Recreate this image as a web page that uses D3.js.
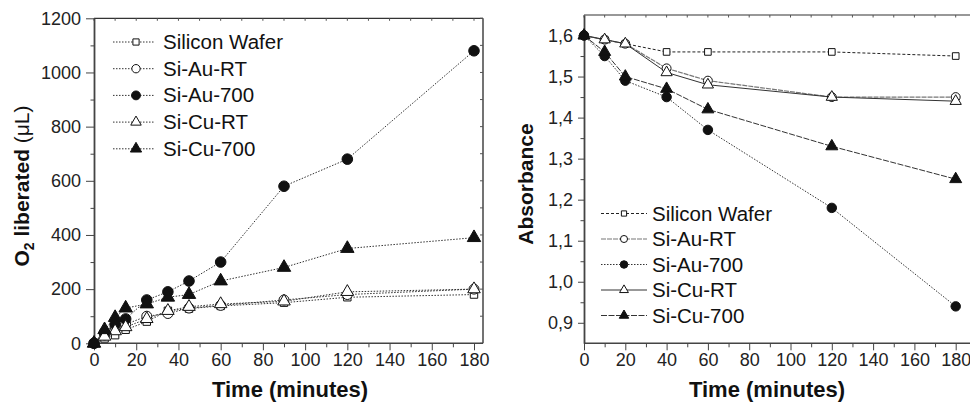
<!DOCTYPE html>
<html>
<head>
<meta charset="utf-8">
<script src="https://cdn.jsdelivr.net/npm/d3@7"></script>
<style>
  body { margin: 0; background: #fff; }
  svg { font-family: "Liberation Sans", Arial, Helvetica, sans-serif; }
  .axis path, .axis line { stroke: #444; }
  .axis text { fill: #222; font-size: 18px; }
</style>
</head>
<body>
<svg id="chart" width="970" height="408"></svg>
<script>
// series names, shared by both panels
const seriesNames = ['Silicon Wafer', 'Si-Au-RT', 'Si-Au-700', 'Si-Cu-RT', 'Si-Cu-700'];

// left panel: O2 liberated (uL) vs time
const timeO2 = [0, 5, 10, 15, 25, 35, 45, 60, 90, 120, 180];
const o2Wafer = [0, 18, 30, 50, 80, 120, 128, 138, 150, 170, 180];
const o2AuRT  = [0, 30, 60, 70, 100, 110, 130, 140, 160, 180, 200];
const o2Au700 = [0, 40, 70, 90, 160, 190, 230, 300, 580, 680, 1080];
const o2CuRT  = [0, 25, 45, 60, 90, 120, 135, 145, 155, 190, 200];
const o2Cu700 = [0, 50, 95, 130, 145, 170, 180, 230, 280, 350, 390];

// right panel: absorbance vs time
const timeAbs = [0, 10, 20, 40, 60, 120, 180];
const absWafer = [1.60, 1.59, 1.58, 1.56, 1.56, 1.56, 1.55];
const absAuRT  = [1.60, 1.59, 1.58, 1.52, 1.49, 1.45, 1.45];
const absAu700 = [1.60, 1.55, 1.49, 1.45, 1.37, 1.18, 0.94];
const absCuRT  = [1.60, 1.59, 1.58, 1.51, 1.48, 1.45, 1.44];
const absCu700 = [1.60, 1.56, 1.50, 1.47, 1.42, 1.33, 1.25];

const xTicks = [0, 20, 40, 60, 80, 100, 120, 140, 160, 180];
const xMinor = [10, 30, 50, 70, 90, 110, 130, 150, 170];
const o2Ticks = [0, 200, 400, 600, 800, 1000, 1200];
const o2Minor = [100, 300, 500, 700, 900, 1100];
const absTicks = [0.9, 1.0, 1.1, 1.2, 1.3, 1.4, 1.5, 1.6];
const absMinor = [0.95, 1.05, 1.15, 1.25, 1.35, 1.45, 1.55];

const svg = d3.select('#chart');

// marker for each series: [symbol type, filled?]
const MARKS = [
  [d3.symbolSquare, false],
  [d3.symbolCircle, false],
  [d3.symbolCircle, true],
  [d3.symbolTriangle, false],
  [d3.symbolTriangle, true]
];

function drawMarker(g, i, x, y, scale) {
  const sizes = [55, 78, 88, 68, 78];
  g.append('path')
    .attr('d', d3.symbol().type(MARKS[i][0]).size(sizes[i] * scale)())
    .attr('transform', `translate(${x},${y})`)
    .attr('fill', MARKS[i][1] ? '#111' : '#fff')
    .attr('stroke', '#111')
    .attr('stroke-width', 1);
}

function panel(opts) {
  const g = svg.append('g');
  const x = d3.scaleLinear().domain([0, 180]).range(opts.xRange);
  const y = d3.scaleLinear().domain(opts.yDomain).range([343.3, opts.top]);
  const left = opts.xRange[0];

  // top border with small inward ticks
  g.append('line').attr('x1', left).attr('x2', opts.right)
    .attr('y1', opts.top).attr('y2', opts.top)
    .attr('stroke', '#333').attr('stroke-width', 1.2);
  g.selectAll('.tt').data(xTicks.concat(xMinor)).enter().append('line')
    .attr('x1', d => x(d)).attr('x2', d => x(d))
    .attr('y1', opts.top).attr('y2', opts.top + 2.5)
    .attr('stroke', '#555');

  if (opts.rightBorder) {
    g.append('line').attr('x1', opts.right).attr('x2', opts.right)
      .attr('y1', opts.top).attr('y2', 343.3).attr('stroke', '#444').attr('stroke-width', 1.5);
    g.selectAll('.rt').data(opts.yTicks.concat(opts.yMinor)).enter().append('line')
      .attr('x1', opts.right - 3).attr('x2', opts.right)
      .attr('y1', d => y(d)).attr('y2', d => y(d)).attr('stroke', '#555');
  }

  // x axis
  const xAx = g.append('g').attr('class', 'axis').attr('transform', 'translate(0,343.3)')
    .call(d3.axisBottom(x).tickValues(xTicks).tickSize(7).tickPadding(3).tickSizeOuter(0));
  xAx.select('.domain').attr('d', `M${left},0H${opts.right}`).attr('stroke-width', 1.5);
  g.append('g').attr('class', 'axis').attr('transform', 'translate(0,343.3)')
    .call(d3.axisBottom(x).tickValues(xMinor).tickSize(4).tickFormat(''))
    .select('.domain').remove();

  // y axis
  const yAx = g.append('g').attr('class', 'axis').attr('transform', `translate(${left},0)`)
    .call(d3.axisLeft(y).tickValues(opts.yTicks).tickSize(opts.tickLen).tickPadding(opts.pad)
      .tickSizeOuter(0).tickFormat(opts.fmt));
  yAx.select('.domain').attr('stroke-width', 1.8);
  g.append('g').attr('class', 'axis').attr('transform', `translate(${left},0)`)
    .call(d3.axisLeft(y).tickValues(opts.yMinor).tickSize(3.5).tickFormat(''))
    .select('.domain').remove();

  // series lines
  opts.series.forEach((vals, i) => {
    const pts = opts.times.map((t, j) => [x(t), y(vals[j])]);
    g.append('path').attr('d', d3.line()(pts))
      .attr('fill', 'none')
      .attr('stroke', opts.styles[i].color)
      .attr('stroke-width', opts.styles[i].w)
      .attr('stroke-dasharray', opts.styles[i].dash);
  });
  opts.series.forEach((vals, i) => {
    opts.times.forEach((t, j) => drawMarker(g, i, x(t), y(vals[j]), opts.markScale));
  });

  // legend
  seriesNames.forEach((name, i) => {
    const ly = opts.legend.y0 + i * opts.legend.dy;
    const L = opts.legend;
    g.append('line').attr('x1', L.x1).attr('x2', L.x2).attr('y1', ly).attr('y2', ly)
      .attr('stroke', opts.styles[i].color).attr('stroke-width', opts.styles[i].w)
      .attr('stroke-dasharray', opts.styles[i].dash);
    drawMarker(g, i, L.xm, ly, L.ms);
    g.append('text').attr('x', L.xt).attr('y', ly + 7).text(name)
      .attr('font-size', L.fs).attr('fill', '#111');
  });

  // x title
  g.append('text').attr('x', opts.xTitleX).attr('y', 397).attr('text-anchor', 'middle')
    .attr('font-size', 22).attr('font-weight', 'bold').attr('fill', '#111')
    .text('Time (minutes)');
  return g;
}

const dotted = { color: '#333', w: 1, dash: '1.5,1.5' };

const gl = panel({
  xRange: [94, 474], right: 483, top: 18.3, rightBorder: true,
  yDomain: [0, 1200], yTicks: o2Ticks, yMinor: o2Minor, tickLen: 8, pad: 5,
  fmt: d3.format('d'),
  times: timeO2, series: [o2Wafer, o2AuRT, o2Au700, o2CuRT, o2Cu700],
  styles: [dotted, dotted, dotted, dotted, dotted], markScale: 1,
  legend: { x1: 113, x2: 155, xm: 136, xt: 163, y0: 42, dy: 26.7, ms: 0.7, fs: 20.5 },
  xTitleX: 290
});

const gr = panel({
  xRange: [584, 955.7], right: 970, top: 15, rightBorder: false,
  yDomain: [0.85, 1.65], yTicks: absTicks, yMinor: absMinor, tickLen: 6, pad: 5,
  fmt: d => d3.format('.1f')(d).replace('.', ','),
  times: timeAbs, series: [absWafer, absAuRT, absAu700, absCuRT, absCu700],
  styles: [
    { color: '#222', w: 1, dash: '3,2' },
    { color: '#777', w: 1.2, dash: '5,1' },
    { color: '#333', w: 1, dash: '1.5,1.5' },
    { color: '#333', w: 1, dash: null },
    { color: '#333', w: 1, dash: '6,1.5' }
  ],
  markScale: 0.8,
  legend: { x1: 601, x2: 647, xm: 624, xt: 652, y0: 213.5, dy: 25.5, ms: 0.5, fs: 20.5 },
  xTitleX: 767
});

// y titles
const t1 = svg.append('text').attr('transform', 'translate(29,186) rotate(-90)')
  .attr('text-anchor', 'middle').attr('font-size', 21).attr('fill', '#111');
t1.append('tspan').attr('font-weight', 'bold').text('O');
t1.append('tspan').attr('font-weight', 'bold').attr('font-size', 14).attr('dy', 5).text('2');
t1.append('tspan').attr('font-weight', 'bold').attr('dy', -5).text(' liberated ');
t1.append('tspan').text('(\u03BCL)');

svg.append('text').attr('transform', 'translate(533,184) rotate(-90)')
  .attr('text-anchor', 'middle').attr('font-size', 21).attr('font-weight', 'bold')
  .attr('fill', '#111').text('Absorbance');
</script>
</body>
</html>
